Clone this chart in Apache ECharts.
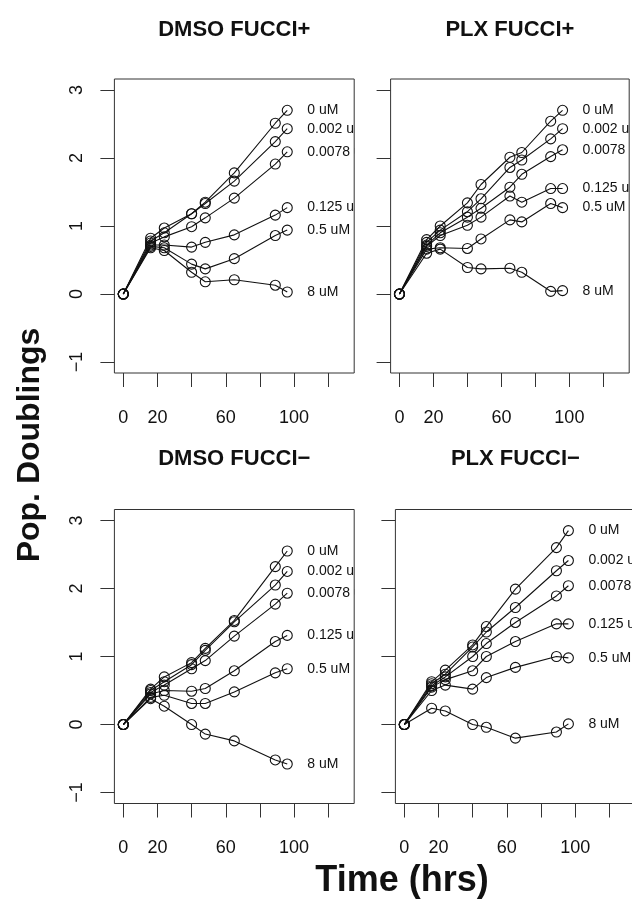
<!DOCTYPE html>
<html><head><meta charset="utf-8">
<script src="https://cdn.jsdelivr.net/npm/echarts@6/dist/echarts.min.js"></script>
<style>html,body{margin:0;padding:0;background:#fff}#c{width:632px;height:902px}</style>
</head><body><div id="c"></div>
<script>
// ---------- data ----------
const DOSE_LABELS = ['0 uM', '0.002 uM', '0.0078 uM', '0.125 uM', '0.5 uM', '8 uM'];
const PANEL_TITLES = ['DMSO FUCCI+', 'PLX FUCCI+', 'DMSO FUCCI\u2212', 'PLX FUCCI\u2212'];
const X_TICKS = [0, 20, 40, 60, 80, 100, 120];
const X_TICK_LABELS = [0, 20, 60, 100];
const Y_TICKS = [-1, 0, 1, 2, 3];
const X_TITLE = 'Time (hrs)';
const Y_TITLE = 'Pop. Doublings';

const HOURS_STD = [0, 16, 24, 40, 48, 65, 89, 96];
const HOURS_PLX_POS = [0, 16, 24, 40, 48, 65, 72, 89, 96];

// DMSO FUCCI+
const dmsoPos_0 = [0, 0.82, 0.97, 1.18, 1.35, 1.78, 2.51, 2.70];
const dmsoPos_0002 = [0, 0.78, 0.90, 1.18, 1.33, 1.66, 2.24, 2.43];
const dmsoPos_00078 = [0, 0.75, 0.84, 0.99, 1.12, 1.41, 1.91, 2.09];
const dmsoPos_0125 = [0, 0.72, 0.72, 0.69, 0.76, 0.87, 1.16, 1.27];
const dmsoPos_05 = [0, 0.70, 0.68, 0.44, 0.37, 0.52, 0.86, 0.94];
const dmsoPos_8 = [0, 0.68, 0.64, 0.32, 0.18, 0.21, 0.13, 0.03];

// PLX FUCCI+
const plxPos_0 = [0, 0.80, 1.00, 1.34, 1.61, 2.01, 2.08, 2.54, 2.70];
const plxPos_0002 = [0, 0.76, 0.94, 1.21, 1.40, 1.86, 1.97, 2.28, 2.43];
const plxPos_00078 = [0, 0.72, 0.90, 1.13, 1.26, 1.57, 1.76, 2.02, 2.12];
const plxPos_0125 = [0, 0.70, 0.86, 1.01, 1.13, 1.44, 1.35, 1.55, 1.55];
const plxPos_05 = [0, 0.66, 0.68, 0.67, 0.81, 1.09, 1.06, 1.33, 1.27];
const plxPos_8 = [0, 0.60, 0.66, 0.39, 0.37, 0.38, 0.32, 0.04, 0.05];

// DMSO FUCCI-
const dmsoNeg_0 = [0, 0.52, 0.70, 0.91, 1.12, 1.53, 2.32, 2.55];
const dmsoNeg_0002 = [0, 0.50, 0.63, 0.88, 1.09, 1.51, 2.05, 2.25];
const dmsoNeg_00078 = [0, 0.47, 0.58, 0.82, 0.94, 1.30, 1.77, 1.93];
const dmsoNeg_0125 = [0, 0.45, 0.50, 0.49, 0.53, 0.79, 1.22, 1.31];
const dmsoNeg_05 = [0, 0.40, 0.43, 0.31, 0.31, 0.48, 0.76, 0.82];
const dmsoNeg_8 = [0, 0.38, 0.27, 0.00, -0.14, -0.24, -0.52, -0.58];

// PLX FUCCI-
const plxNeg_0 = [0, 0.63, 0.80, 1.17, 1.44, 1.99, 2.60, 2.85];
const plxNeg_0002 = [0, 0.60, 0.74, 1.14, 1.36, 1.72, 2.26, 2.41];
const plxNeg_00078 = [0, 0.57, 0.70, 1.00, 1.19, 1.50, 1.89, 2.04];
const plxNeg_0125 = [0, 0.55, 0.66, 0.79, 1.00, 1.22, 1.48, 1.48];
const plxNeg_05 = [0, 0.50, 0.58, 0.52, 0.69, 0.84, 1.00, 0.98];
const plxNeg_8 = [0, 0.24, 0.20, 0.00, -0.04, -0.20, -0.11, 0.01];

const PANELS = [
  { hours: HOURS_STD, values: [dmsoPos_0, dmsoPos_0002, dmsoPos_00078, dmsoPos_0125, dmsoPos_05, dmsoPos_8] },
  { hours: HOURS_PLX_POS, values: [plxPos_0, plxPos_0002, plxPos_00078, plxPos_0125, plxPos_05, plxPos_8] },
  { hours: HOURS_STD, values: [dmsoNeg_0, dmsoNeg_0002, dmsoNeg_00078, dmsoNeg_0125, dmsoNeg_05, dmsoNeg_8] },
  { hours: HOURS_STD, values: [plxNeg_0, plxNeg_0002, plxNeg_00078, plxNeg_0125, plxNeg_05, plxNeg_8] }
];

// ---------- layout / style ----------
const FONT = '"Liberation Sans", Arial, Helvetica, sans-serif';
const INK = '#111';
const GRIDS = [
  { left: 114.4, top: 79, width: 239.8, height: 294, yLabels: true },
  { left: 390.6, top: 79, width: 238.6, height: 294, yLabels: false },
  { left: 114.4, top: 509.5, width: 239.8, height: 294, yLabels: true },
  { left: 395.4, top: 509.5, width: 240, height: 294, yLabels: false }
];
const TITLE_Y = [30, 30, 459, 459];

const chart = echarts.init(document.getElementById('c'), null, { renderer: 'canvas' });

const grid = GRIDS.map(g => ({
  left: g.left, top: g.top, width: g.width, height: g.height,
  show: true, borderColor: '#333', borderWidth: 1, backgroundColor: 'transparent',
  containLabel: false, outerBoundsMode: 'none'
}));

const xAxis = GRIDS.map((g, i) => ({
  gridIndex: i, type: 'value', min: -5.2, max: 135.2, position: 'bottom',
  axisLine: { show: false, onZero: false }, splitLine: { show: false },
  axisTick: { show: true, customValues: X_TICKS, length: 14, lineStyle: { color: '#333', width: 1 } },
  axisLabel: { customValues: X_TICK_LABELS, margin: 36, fontSize: 18, color: '#111', fontFamily: FONT, hideOverlap: false }
}));

const yAxis = GRIDS.map((g, i) => ({
  gridIndex: i, type: 'value', min: -1.16, max: 3.16, position: 'left',
  axisLine: { show: false, onZero: false }, splitLine: { show: false },
  axisTick: { show: true, customValues: Y_TICKS, length: 14, lineStyle: { color: '#333', width: 1 } },
  axisLabel: { show: g.yLabels, customValues: Y_TICKS, rotate: 90, margin: 28, fontSize: 18, color: '#111', fontFamily: FONT,
    formatter: v => String(v).replace('-', '\u2212') }
}));

const series = [];
PANELS.forEach((p, pi) => {
  p.values.forEach((vals, di) => {
    series.push({
      type: 'line', xAxisIndex: pi, yAxisIndex: pi,
      data: p.hours.map((h, k) => [h, vals[k]]),
      symbol: 'circle', symbolSize: 10, showAllSymbol: true,
      itemStyle: { color: 'rgba(0,0,0,0)', borderColor: INK, borderWidth: 1.1 },
      lineStyle: { color: INK, width: 1.1 },
      emphasis: { disabled: true }, silent: true, clip: true
    });
  });
  const lastIdx = p.hours.length - 1;
  series.push({
    type: 'custom', xAxisIndex: pi, yAxisIndex: pi, clip: true, silent: true,
    data: p.values.map(vals => [p.hours[lastIdx], vals[lastIdx]]),
    renderItem: (params, api) => {
      const pt = api.coord([api.value(0), api.value(1)]);
      return {
        type: 'text', x: pt[0] + 20, y: pt[1],
        style: { text: DOSE_LABELS[params.dataIndex], fill: '#111', font: '14px ' + FONT, align: 'left', verticalAlign: 'middle' }
      };
    }
  });
});

const graphic = [];
GRIDS.forEach((g, i) => {
  graphic.push({
    type: 'text', x: g.left + g.width / 2, y: TITLE_Y[i], silent: true,
    style: { text: PANEL_TITLES[i], font: 'bold 22px ' + FONT, fill: '#111', align: 'center', verticalAlign: 'middle' }
  });
});
graphic.push({
  type: 'text', x: 402, y: 881, silent: true,
  style: { text: X_TITLE, font: 'bold 36px ' + FONT, fill: '#111', align: 'center', verticalAlign: 'middle' }
});
graphic.push({
  type: 'text', x: 30, y: 445, rotation: Math.PI / 2, silent: true,
  style: { text: Y_TITLE, font: 'bold 32px ' + FONT, fill: '#111', align: 'center', verticalAlign: 'middle' }
});

chart.setOption({
  animation: false,
  backgroundColor: '#fff',
  grid, xAxis, yAxis, series, graphic
});
</script>
</body></html>
